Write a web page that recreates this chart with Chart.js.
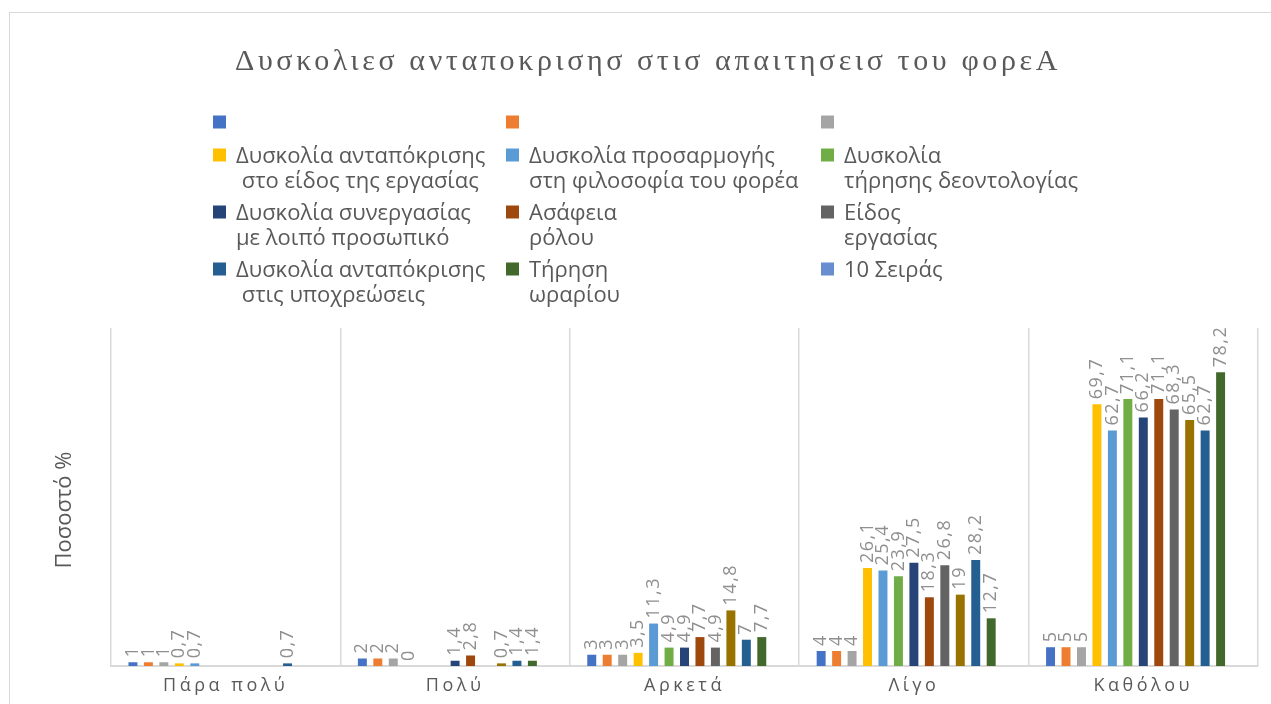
<!DOCTYPE html>
<html>
<head>
<meta charset="utf-8">
<script src="https://cdn.jsdelivr.net/npm/chart.js@4/dist/chart.umd.min.js"></script>
<style>
  html, body { margin: 0; padding: 0; background: #fff; }
</style>
</head>
<body>
<canvas id="chart" width="1271" height="704"></canvas>
<script>
// Data
var titleText = 'Δυσκολιεσ ανταποκρισησ στισ απαιτησεισ του φορεΑ';
var yTitle = 'Ποσοστό %';
var categories = ['Πάρα πολύ', 'Πολύ', 'Αρκετά', 'Λίγο', 'Καθόλου'];

var seriesNames = ['', '', '',
    'Δυσκολία ανταπόκρισης στο είδος της εργασίας',
    'Δυσκολία προσαρμογής στη φιλοσοφία του φορέα',
    'Δυσκολία τήρησης δεοντολογίας',
    'Δυσκολία συνεργασίας με λοιπό προσωπικό',
    'Ασάφεια ρόλου',
    'Είδος εργασίας',
    '',
    'Δυσκολία ανταπόκρισης στις υποχρεώσεις',
    'Τήρηση ωραρίου',
    '10 Σειράς'];
var seriesColors = ['#4472C4', '#ED7D31', '#A5A5A5', '#FFC000', '#5B9BD5', '#70AD47',
    '#264478', '#9E480E', '#636363', '#997300', '#255E91', '#43682B', '#698ED0'];

var s1 = [1, 2, 3, 4, 5];
var s2 = [1, 2, 3, 4, 5];
var s3 = [1, 2, 3, 4, 5];
var s4 = [0.7, 0, 3.5, 26.1, 69.7];
var s5 = [0.7, null, 11.3, 25.4, 62.7];
var s6 = [null, null, 4.9, 23.9, 71.1];
var s7 = [null, 1.4, 4.9, 27.5, 66.2];
var s8 = [null, 2.8, 7.7, 18.3, 71.1];
var s9 = [null, null, 4.9, 26.8, 68.3];
var s10 = [null, 0.7, 14.8, 19, 65.5];
var s11 = [0.7, 1.4, 7, 28.2, 62.7];
var s12 = [null, 1.4, 7.7, 12.7, 78.2];
var s13 = [null, null, null, null, null]; // "10 Σειράς" - empty series
var seriesValues = [s1, s2, s3, s4, s5, s6, s7, s8, s9, s10, s11, s12, s13];

// legend as it appears in the picture (3 columns)
var legendLabels = [
    [''], [''], [''],
    ['Δυσκολία ανταπόκρισης', ' στο είδος της εργασίας'],
    ['Δυσκολία προσαρμογής', 'στη φιλοσοφία του φορέα'],
    ['Δυσκολία', 'τήρησης δεοντολογίας'],
    ['Δυσκολία συνεργασίας', 'με λοιπό προσωπικό'],
    ['Ασάφεια', 'ρόλου'],
    ['Είδος', 'εργασίας'],
    ['Δυσκολία ανταπόκρισης', ' στις υποχρεώσεις'],
    ['Τήρηση', 'ωραρίου'],
    ['10 Σειράς']
];
var legendColors = ['#4472C4', '#ED7D31', '#A5A5A5', '#FFC000', '#5B9BD5', '#70AD47',
    '#264478', '#9E480E', '#636363', '#255E91', '#43682B', '#698ED0'];

var textColor = '#595959';
var labelColor = '#8f8f8f';
var gridColor = '#d9d9d9';

var datasets = [];
seriesValues.forEach(function(vals, i) {
    datasets.push({
        label: seriesNames[i] || ('Σειρά ' + (i + 1)),
        data: vals,
        backgroundColor: seriesColors[i],
        borderWidth: 0
    });
});

var extrasPlugin = {
    id: 'extras',
    beforeDraw: function(chart) {
        var ctx = chart.ctx;
        ctx.save();
        ctx.strokeStyle = gridColor;
        ctx.lineWidth = 1;
        ctx.strokeRect(9.5, 12.5, 1300, 800);
        ctx.restore();
        // spaced out category labels
        ctx.letterSpacing = '3.5px';
    },
    beforeDatasetsDraw: function(chart) {
        chart.ctx.letterSpacing = '0px';
    },
    afterDatasetsDraw: function(chart) {
        var ctx = chart.ctx;
        ctx.save();
        ctx.fillStyle = labelColor;
        ctx.font = '18px "Open Sans"';
        ctx.letterSpacing = '1.5px';
        ctx.textAlign = 'left';
        ctx.textBaseline = 'middle';
        chart.data.datasets.forEach(function(ds, i) {
            var meta = chart.getDatasetMeta(i);
            meta.data.forEach(function(bar, j) {
                var v = ds.data[j];
                if (v === null || v === undefined) return;
                ctx.save();
                ctx.translate(bar.x, bar.y - 5);
                ctx.rotate(-Math.PI / 2);
                ctx.fillText(String(v).replace('.', ','), 0, 0);
                ctx.restore();
            });
        });
        ctx.restore();
    },
    afterDraw: function(chart) {
        var ctx = chart.ctx;
        ctx.save();

        // title
        ctx.fillStyle = textColor;
        ctx.font = '30px "Liberation Serif"';
        ctx.letterSpacing = '0px';
        var w0 = ctx.measureText(titleText).width;
        var sp = (826 - w0) / titleText.length;
        ctx.letterSpacing = sp + 'px';
        ctx.textAlign = 'left';
        ctx.textBaseline = 'alphabetic';
        ctx.fillText(titleText, 235, 70);
        ctx.letterSpacing = '0px';

        // y axis title
        ctx.save();
        ctx.font = '22px "Open Sans"';
        ctx.translate(71, 510);
        ctx.rotate(-Math.PI / 2);
        ctx.textAlign = 'center';
        ctx.fillText(yTitle, 0, 0);
        ctx.restore();

        // legend
        var colX = [213, 506, 821];
        var y = 122;
        ctx.font = '22px "Open Sans"';
        for (var r = 0; r < legendLabels.length; r += 3) {
            var maxLines = 1;
            for (var c = 0; c < 3 && r + c < legendLabels.length; c++) {
                var lines = legendLabels[r + c];
                ctx.fillStyle = legendColors[r + c];
                ctx.fillRect(colX[c], y - 6.5, 13, 13);
                ctx.fillStyle = textColor;
                lines.forEach(function(line, k) {
                    ctx.fillText(line, colX[c] + 23, y + 8 + k * 24.5);
                });
                maxLines = Math.max(maxLines, lines.length);
            }
            y += maxLines * 24 + 9;
        }
        ctx.restore();
    }
};

var ctx = document.getElementById('chart');
var myChart = new Chart(ctx, {
    type: 'bar',
    data: { labels: categories, datasets: datasets },
    options: {
        responsive: false,
        animation: false,
        layout: { padding: { left: 111, right: 13, top: 328, bottom: 0 } },
        datasets: { bar: { categoryPercentage: 0.876, barPercentage: 0.58 } },
        plugins: {
            legend: { display: false },
            title: { display: false },
            tooltip: { enabled: false }
        },
        scales: {
            x: {
                grid: { offset: true, color: gridColor, lineWidth: 1.5, drawTicks: false },
                border: { color: gridColor, width: 2 },
                ticks: { color: textColor, font: { family: 'Open Sans', size: 18 }, padding: 9 },
                afterFit: function(scale) { scale.height = 38; }
            },
            y: { display: false, min: 0, max: 90 }
        }
    },
    plugins: [extrasPlugin]
});
</script>
</body>
</html>
